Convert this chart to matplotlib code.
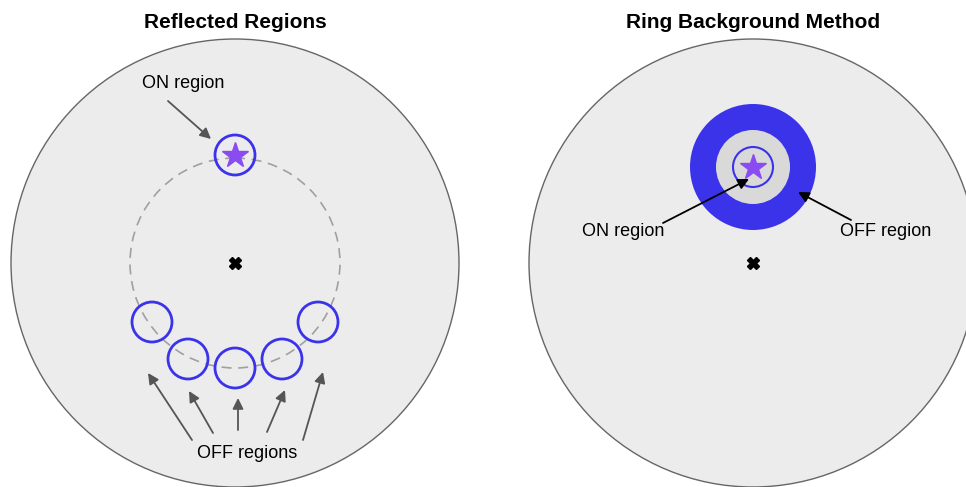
import numpy as np
import matplotlib.pyplot as plt
from matplotlib.patches import Circle

plt.rcParams['font.family'] = ['Liberation Sans', 'DejaVu Sans']

# panel layout (pixel coordinates, y pointing down)
titles = ["Reflected Regions", "Ring Background Method"]
panel_cx = [235, 753]
panel_cy = 263
fov_r = 224

# reflected regions: on + off region centres
on_left = (235, 155)
ring_r = 105
region_r = 20
off_left_x = [152, 188, 235, 282, 318]
off_left_y = [322, 359, 368, 359, 322]

# arrows for OFF regions (tail -> head)
off_arrow_tail = [(192, 440), (213, 433), (238, 430), (267, 432), (303, 440)]
off_arrow_head = [(148, 373), (189, 391), (238, 398), (285, 390), (323, 372)]

# ring background
on_right = (753, 167)
ring_outer = 63
ring_inner = 37
on_right_r = 20

BLUE = '#3b33ea'
PURPLE = '#8a4cf0'
FOV_FILL = '#ececec'

fig = plt.figure(figsize=(9.66, 4.87), dpi=100)
ax = fig.add_axes([0, 0, 1, 1])
ax.set_xlim(0, 966)
ax.set_ylim(487, 0)
ax.set_aspect('equal')
ax.axis('off')

for cx, t in zip(panel_cx, titles):
    ax.add_patch(Circle((cx, panel_cy), fov_r, facecolor=FOV_FILL,
                        edgecolor='#666666', lw=1.0, zorder=1))
    ax.text(cx, 22, t, ha='center', va='center', fontsize=15,
            fontweight='bold')
    ax.plot(cx, panel_cy, marker='X', color='black', markersize=8, zorder=5)

# --- left: reflected regions
ax.add_patch(Circle((panel_cx[0], panel_cy), ring_r, fill=False,
                    edgecolor='#a0a0a0', lw=1.2, ls=(0, (6, 4)), zorder=2))
ax.add_patch(Circle(on_left, region_r, fill=False, edgecolor=BLUE,
                    lw=2.0, zorder=3))
ax.plot(*on_left, marker='*', color=PURPLE, markersize=19, zorder=4)
for x, y in zip(off_left_x, off_left_y):
    ax.add_patch(Circle((x, y), region_r, fill=False, edgecolor=BLUE,
                        lw=2.0, zorder=3))

grey_arrow = dict(arrowstyle='-|>', color='#555555', lw=1.3,
                  mutation_scale=16, shrinkA=0, shrinkB=0)
ax.annotate('', xy=(211, 139), xytext=(168, 101), arrowprops=grey_arrow)
ax.text(183, 84, "ON region", ha='center', va='center', fontsize=13)
for tail, head in zip(off_arrow_tail, off_arrow_head):
    ax.annotate('', xy=head, xytext=tail, arrowprops=grey_arrow)
ax.text(247, 454, "OFF regions", ha='center', va='center', fontsize=13)

# --- right: ring background
ax.add_patch(Circle(on_right, ring_outer, facecolor=BLUE, edgecolor='none',
                    zorder=2))
ax.add_patch(Circle(on_right, ring_inner, facecolor='#d9d9d9',
                    edgecolor='none', zorder=2))
ax.add_patch(Circle(on_right, on_right_r, fill=False, edgecolor=BLUE,
                    lw=1.5, zorder=3))
ax.plot(*on_right, marker='*', color=PURPLE, markersize=19, zorder=4)

black_arrow = dict(arrowstyle='-|>', color='black', lw=1.3,
                   mutation_scale=16, shrinkA=0, shrinkB=0)
ax.annotate('', xy=(749, 179), xytext=(663, 223), arrowprops=black_arrow,
            zorder=6)
ax.text(623, 232, "ON region", ha='center', va='center', fontsize=13)
ax.annotate('', xy=(798, 192), xytext=(851, 220), arrowprops=black_arrow,
            zorder=6)
ax.text(886, 232, "OFF region", ha='center', va='center', fontsize=13)

fig.savefig('out.png', dpi=100, facecolor='white')
